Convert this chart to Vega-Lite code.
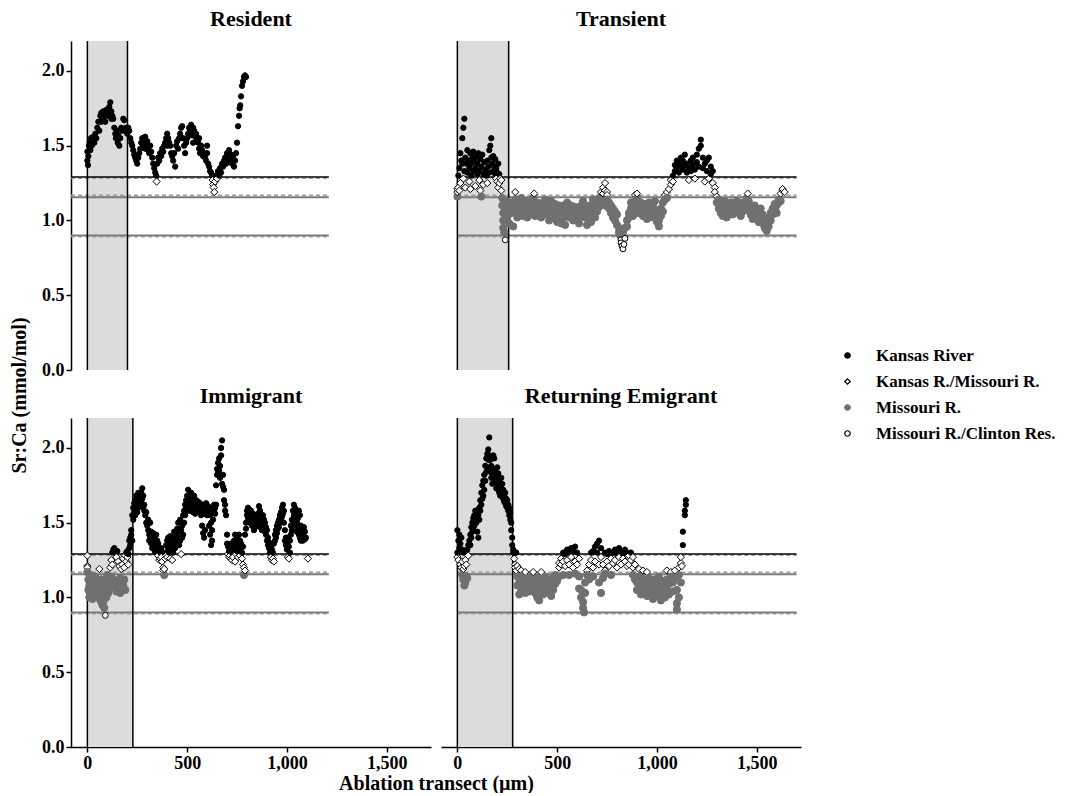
{
"$schema":"https://vega.github.io/schema/vega-lite/v6.json",
"background":"white",
"padding":{"left":9,"top":8,"right":5,"bottom":0},
"columns":2,
"spacing":{"row":48,"column":10},
"bounds":"flush",
"datasets":{
"pan":[{"g":"R","x":0,"xe":201},{"g":"T","x":0,"xe":257},{"g":"I","x":0,"xe":228},{"g":"E","x":0,"xe":277}],
"lines":[
{"g":"R","x":-82,"xe":1210,"y":1.29,"k":"bs"},{"g":"R","x":-82,"xe":1210,"y":1.283,"k":"gd"},{"g":"R","x":-82,"xe":1210,"y":1.168,"k":"gd"},{"g":"R","x":-82,"xe":1210,"y":1.155,"k":"gs"},{"g":"R","x":-82,"xe":1210,"y":0.9,"k":"gs"},{"g":"R","x":-82,"xe":1210,"y":0.891,"k":"gd"},
{"g":"T","x":0,"xe":1700,"y":1.29,"k":"bs"},{"g":"T","x":0,"xe":1700,"y":1.283,"k":"gd"},{"g":"T","x":0,"xe":1700,"y":1.168,"k":"gd"},{"g":"T","x":0,"xe":1700,"y":1.155,"k":"gs"},{"g":"T","x":0,"xe":1700,"y":0.9,"k":"gs"},{"g":"T","x":0,"xe":1700,"y":0.891,"k":"gd"},
{"g":"I","x":-82,"xe":1210,"y":1.29,"k":"bs"},{"g":"I","x":-82,"xe":1210,"y":1.283,"k":"gd"},{"g":"I","x":-82,"xe":1210,"y":1.168,"k":"gd"},{"g":"I","x":-82,"xe":1210,"y":1.155,"k":"gs"},{"g":"I","x":-82,"xe":1210,"y":0.9,"k":"gs"},{"g":"I","x":-82,"xe":1210,"y":0.891,"k":"gd"},
{"g":"E","x":0,"xe":1700,"y":1.29,"k":"bs"},{"g":"E","x":0,"xe":1700,"y":1.283,"k":"gd"},{"g":"E","x":0,"xe":1700,"y":1.168,"k":"gd"},{"g":"E","x":0,"xe":1700,"y":1.155,"k":"gs"},{"g":"E","x":0,"xe":1700,"y":0.9,"k":"gs"},{"g":"E","x":0,"xe":1700,"y":0.891,"k":"gd"}
],
"R":[
{"x":0,"y":1.40,"s":"K"},{"x":0,"y":1.46,"s":"K"},{"x":3,"y":1.37,"s":"K"},{"x":5,"y":1.43,"s":"K"},{"x":8,"y":1.50,"s":"K"},{"x":12,"y":1.52,"s":"K"},{"x":15,"y":1.47,"s":"K"},{"x":18,"y":1.55,"s":"K"},{"x":22,"y":1.50,"s":"K"},{"x":25,"y":1.54,"s":"K"},
{"x":30,"y":1.56,"s":"K"},{"x":35,"y":1.52,"s":"K"},{"x":40,"y":1.58,"s":"K"},{"x":45,"y":1.55,"s":"K"},{"x":50,"y":1.62,"s":"K"},{"x":55,"y":1.66,"s":"K"},{"x":60,"y":1.60,"s":"K"},{"x":65,"y":1.70,"s":"K"},{"x":70,"y":1.72,"s":"K"},{"x":70,"y":1.66,"s":"K"},
{"x":75,"y":1.68,"s":"K"},{"x":80,"y":1.73,"s":"K"},{"x":85,"y":1.70,"s":"K"},{"x":90,"y":1.66,"s":"K"},{"x":95,"y":1.74,"s":"K"},{"x":100,"y":1.70,"s":"K"},{"x":105,"y":1.72,"s":"K"},{"x":110,"y":1.76,"s":"K"},{"x":110,"y":1.70,"s":"K"},{"x":115,"y":1.79,"s":"K"},
{"x":120,"y":1.73,"s":"K"},{"x":120,"y":1.68,"s":"K"},{"x":125,"y":1.70,"s":"K"},{"x":130,"y":1.68,"s":"K"},{"x":135,"y":1.62,"s":"K"},{"x":140,"y":1.58,"s":"K"},{"x":143,"y":1.55,"s":"K"},{"x":148,"y":1.60,"s":"K"},{"x":152,"y":1.52,"s":"K"},{"x":155,"y":1.57,"s":"K"},
{"x":160,"y":1.50,"s":"K"},{"x":165,"y":1.55,"s":"K"},{"x":170,"y":1.62,"s":"K"},{"x":175,"y":1.60,"s":"K"},{"x":180,"y":1.68,"s":"K"},{"x":185,"y":1.67,"s":"K"},{"x":190,"y":1.60,"s":"K"},{"x":195,"y":1.62,"s":"K"},{"x":200,"y":1.58,"s":"K"},{"x":200,"y":1.62,"s":"K"},
{"x":205,"y":1.62,"s":"K"},{"x":210,"y":1.60,"s":"K"},{"x":215,"y":1.55,"s":"K"},{"x":220,"y":1.52,"s":"K"},{"x":225,"y":1.50,"s":"K"},{"x":230,"y":1.47,"s":"K"},{"x":235,"y":1.44,"s":"K"},{"x":240,"y":1.42,"s":"K"},{"x":245,"y":1.40,"s":"K"},{"x":250,"y":1.38,"s":"K"},
{"x":255,"y":1.42,"s":"K"},{"x":260,"y":1.45,"s":"K"},{"x":265,"y":1.48,"s":"K"},{"x":270,"y":1.52,"s":"K"},{"x":275,"y":1.55,"s":"K"},{"x":280,"y":1.50,"s":"K"},{"x":285,"y":1.53,"s":"K"},{"x":290,"y":1.56,"s":"K"},{"x":290,"y":1.48,"s":"K"},{"x":295,"y":1.50,"s":"K"},
{"x":300,"y":1.48,"s":"K"},{"x":300,"y":1.53,"s":"K"},{"x":305,"y":1.47,"s":"K"},{"x":310,"y":1.45,"s":"K"},{"x":315,"y":1.50,"s":"K"},{"x":320,"y":1.46,"s":"K"},{"x":325,"y":1.42,"s":"K"},{"x":330,"y":1.38,"s":"K"},{"x":335,"y":1.35,"s":"K"},{"x":340,"y":1.32,"s":"K"},
{"x":345,"y":1.30,"s":"K"},{"x":347,"y":1.26,"s":"KM"},{"x":350,"y":1.38,"s":"K"},{"x":355,"y":1.42,"s":"K"},{"x":360,"y":1.40,"s":"K"},{"x":365,"y":1.45,"s":"K"},{"x":370,"y":1.43,"s":"K"},{"x":375,"y":1.48,"s":"K"},{"x":380,"y":1.46,"s":"K"},{"x":385,"y":1.50,"s":"K"},
{"x":390,"y":1.52,"s":"K"},{"x":395,"y":1.55,"s":"K"},{"x":400,"y":1.58,"s":"K"},{"x":400,"y":1.50,"s":"K"},{"x":405,"y":1.55,"s":"K"},{"x":410,"y":1.52,"s":"K"},{"x":415,"y":1.50,"s":"K"},{"x":420,"y":1.45,"s":"K"},{"x":425,"y":1.43,"s":"K"},{"x":430,"y":1.40,"s":"K"},
{"x":435,"y":1.45,"s":"K"},{"x":440,"y":1.36,"s":"K"},{"x":445,"y":1.50,"s":"K"},{"x":450,"y":1.53,"s":"K"},{"x":455,"y":1.48,"s":"K"},{"x":460,"y":1.55,"s":"K"},{"x":465,"y":1.58,"s":"K"},{"x":470,"y":1.62,"s":"K"},{"x":470,"y":1.55,"s":"K"},{"x":475,"y":1.63,"s":"K"},
{"x":480,"y":1.55,"s":"K"},{"x":485,"y":1.50,"s":"K"},{"x":490,"y":1.45,"s":"K"},{"x":495,"y":1.52,"s":"K"},{"x":500,"y":1.55,"s":"K"},{"x":505,"y":1.58,"s":"K"},{"x":510,"y":1.62,"s":"K"},{"x":515,"y":1.60,"s":"K"},{"x":520,"y":1.64,"s":"K"},{"x":520,"y":1.57,"s":"K"},
{"x":525,"y":1.58,"s":"K"},{"x":530,"y":1.62,"s":"K"},{"x":530,"y":1.52,"s":"K"},{"x":535,"y":1.60,"s":"K"},{"x":540,"y":1.56,"s":"K"},{"x":545,"y":1.58,"s":"K"},{"x":550,"y":1.55,"s":"K"},{"x":555,"y":1.52,"s":"K"},{"x":560,"y":1.48,"s":"K"},{"x":560,"y":1.55,"s":"K"},
{"x":565,"y":1.45,"s":"K"},{"x":570,"y":1.50,"s":"K"},{"x":575,"y":1.47,"s":"K"},{"x":580,"y":1.43,"s":"K"},{"x":585,"y":1.45,"s":"K"},{"x":590,"y":1.42,"s":"K"},{"x":595,"y":1.40,"s":"K"},{"x":600,"y":1.45,"s":"K"},{"x":600,"y":1.50,"s":"K"},{"x":605,"y":1.38,"s":"K"},
{"x":610,"y":1.36,"s":"K"},{"x":615,"y":1.33,"s":"K"},{"x":620,"y":1.32,"s":"K"},{"x":625,"y":1.30,"s":"K"},{"x":628,"y":1.27,"s":"KM"},{"x":630,"y":1.24,"s":"KM"},{"x":633,"y":1.22,"s":"KM"},{"x":636,"y":1.19,"s":"KM"},{"x":640,"y":1.26,"s":"KM"},{"x":645,"y":1.30,"s":"K"},
{"x":650,"y":1.28,"s":"KM"},{"x":655,"y":1.33,"s":"K"},{"x":660,"y":1.30,"s":"K"},{"x":665,"y":1.35,"s":"K"},{"x":670,"y":1.32,"s":"K"},{"x":675,"y":1.38,"s":"K"},{"x":680,"y":1.36,"s":"K"},{"x":685,"y":1.40,"s":"K"},{"x":690,"y":1.42,"s":"K"},{"x":695,"y":1.38,"s":"K"},
{"x":700,"y":1.45,"s":"K"},{"x":700,"y":1.39,"s":"K"},{"x":705,"y":1.42,"s":"K"},{"x":710,"y":1.47,"s":"K"},{"x":715,"y":1.40,"s":"K"},{"x":720,"y":1.44,"s":"K"},{"x":720,"y":1.41,"s":"K"},{"x":725,"y":1.38,"s":"K"},{"x":730,"y":1.42,"s":"K"},{"x":735,"y":1.36,"s":"K"},
{"x":740,"y":1.40,"s":"K"},{"x":745,"y":1.45,"s":"K"},{"x":750,"y":1.52,"s":"K"},{"x":755,"y":1.63,"s":"K"},{"x":760,"y":1.70,"s":"K"},{"x":763,"y":1.75,"s":"K"},{"x":766,"y":1.77,"s":"K"},{"x":770,"y":1.83,"s":"K"},{"x":775,"y":1.90,"s":"K"},{"x":780,"y":1.93,"s":"K"},
{"x":785,"y":1.96,"s":"K"},{"x":790,"y":1.97,"s":"K"},{"x":795,"y":1.96,"s":"K"}
],
"T":[
{"x":0,"y":1.16,"s":"M"},{"x":0,"y":1.19,"s":"KM"},{"x":0,"y":1.21,"s":"KM"},{"x":5,"y":1.22,"s":"KM"},{"x":5,"y":1.30,"s":"K"},{"x":10,"y":1.20,"s":"KM"},{"x":10,"y":1.35,"s":"K"},{"x":15,"y":1.45,"s":"K"},{"x":15,"y":1.25,"s":"KM"},{"x":20,"y":1.40,"s":"K"},
{"x":25,"y":1.55,"s":"K"},{"x":25,"y":1.38,"s":"K"},{"x":30,"y":1.62,"s":"K"},{"x":30,"y":1.28,"s":"KM"},{"x":35,"y":1.68,"s":"K"},{"x":35,"y":1.33,"s":"K"},{"x":40,"y":1.42,"s":"K"},{"x":40,"y":1.22,"s":"KM"},{"x":45,"y":1.38,"s":"K"},{"x":50,"y":1.47,"s":"K"},
{"x":50,"y":1.32,"s":"K"},{"x":55,"y":1.40,"s":"K"},{"x":60,"y":1.35,"s":"K"},{"x":60,"y":1.26,"s":"KM"},{"x":65,"y":1.45,"s":"K"},{"x":65,"y":1.21,"s":"KM"},{"x":70,"y":1.38,"s":"K"},{"x":70,"y":1.30,"s":"K"},{"x":75,"y":1.42,"s":"K"},{"x":80,"y":1.46,"s":"K"},
{"x":80,"y":1.33,"s":"K"},{"x":85,"y":1.40,"s":"K"},{"x":90,"y":1.35,"s":"K"},{"x":90,"y":1.23,"s":"KM"},{"x":95,"y":1.43,"s":"K"},{"x":100,"y":1.38,"s":"K"},{"x":100,"y":1.31,"s":"K"},{"x":105,"y":1.45,"s":"K"},{"x":110,"y":1.33,"s":"K"},{"x":110,"y":1.27,"s":"KM"},
{"x":115,"y":1.41,"s":"K"},{"x":115,"y":1.20,"s":"KM"},{"x":120,"y":1.36,"s":"K"},{"x":120,"y":1.16,"s":"M"},{"x":125,"y":1.44,"s":"K"},{"x":130,"y":1.31,"s":"K"},{"x":130,"y":1.24,"s":"KM"},{"x":135,"y":1.39,"s":"K"},{"x":140,"y":1.34,"s":"K"},{"x":145,"y":1.30,"s":"K"},
{"x":150,"y":1.40,"s":"K"},{"x":150,"y":1.25,"s":"KM"},{"x":155,"y":1.36,"s":"K"},{"x":160,"y":1.47,"s":"K"},{"x":160,"y":1.32,"s":"K"},{"x":165,"y":1.50,"s":"K"},{"x":170,"y":1.55,"s":"K"},{"x":170,"y":1.42,"s":"K"},{"x":175,"y":1.38,"s":"K"},{"x":180,"y":1.43,"s":"K"},
{"x":180,"y":1.33,"s":"K"},{"x":185,"y":1.36,"s":"K"},{"x":190,"y":1.41,"s":"K"},{"x":190,"y":1.31,"s":"K"},{"x":195,"y":1.35,"s":"K"},{"x":195,"y":1.28,"s":"KM"},{"x":200,"y":1.32,"s":"K"},{"x":200,"y":1.26,"s":"KM"},{"x":205,"y":1.38,"s":"K"},{"x":205,"y":1.22,"s":"KM"},
{"x":210,"y":1.31,"s":"K"},{"x":210,"y":1.25,"s":"KM"},{"x":215,"y":1.28,"s":"KM"},{"x":220,"y":1.20,"s":"KM"},{"x":220,"y":1.27,"s":"KM"},{"x":225,"y":1.15,"s":"M"},{"x":225,"y":1.10,"s":"M"},{"x":230,"y":1.05,"s":"M"},{"x":230,"y":1.00,"s":"M"},{"x":230,"y":0.95,"s":"M"},
{"x":235,"y":0.92,"s":"M"},{"x":235,"y":1.12,"s":"M"},{"x":240,"y":0.87,"s":"MC"},{"x":240,"y":1.08,"s":"M"},{"x":245,"y":1.13,"s":"M"},
{"x":250,"y":1.12,"s":"M"},{"x":250,"y":1.02,"s":"M"},{"x":260,"y":1.08,"s":"M"},{"x":260,"y":0.98,"s":"M"},{"x":270,"y":1.05,"s":"M"},{"x":270,"y":1.12,"s":"M"},{"x":280,"y":1.10,"s":"M"},{"x":280,"y":0.96,"s":"M"},{"x":290,"y":1.14,"s":"M"},{"x":290,"y":1.06,"s":"M"},
{"x":290,"y":1.19,"s":"KM"},{"x":300,"y":1.09,"s":"M"},{"x":300,"y":1.02,"s":"M"},{"x":310,"y":1.12,"s":"M"},{"x":310,"y":1.05,"s":"M"},{"x":320,"y":1.07,"s":"M"},{"x":320,"y":1.15,"s":"M"},{"x":330,"y":1.11,"s":"M"},{"x":330,"y":1.03,"s":"M"},{"x":340,"y":1.08,"s":"M"},
{"x":340,"y":1.13,"s":"M"},{"x":350,"y":1.10,"s":"M"},{"x":350,"y":1.02,"s":"M"},{"x":360,"y":1.06,"s":"M"},{"x":360,"y":1.12,"s":"M"},{"x":370,"y":1.13,"s":"M"},{"x":370,"y":1.04,"s":"M"},{"x":380,"y":1.08,"s":"M"},{"x":380,"y":1.15,"s":"M"},{"x":385,"y":1.18,"s":"KM"},
{"x":390,"y":1.10,"s":"M"},{"x":390,"y":1.03,"s":"M"},{"x":400,"y":1.05,"s":"M"},{"x":400,"y":1.12,"s":"M"},{"x":410,"y":1.11,"s":"M"},{"x":410,"y":1.07,"s":"M"},{"x":420,"y":1.02,"s":"M"},{"x":420,"y":1.09,"s":"M"},{"x":430,"y":1.12,"s":"M"},{"x":430,"y":1.05,"s":"M"},
{"x":440,"y":1.08,"s":"M"},{"x":440,"y":1.14,"s":"M"},{"x":450,"y":1.04,"s":"M"},{"x":450,"y":1.10,"s":"M"},{"x":460,"y":1.12,"s":"M"},{"x":460,"y":1.00,"s":"M"},{"x":470,"y":1.07,"s":"M"},{"x":470,"y":1.13,"s":"M"},{"x":480,"y":1.05,"s":"M"},{"x":480,"y":1.10,"s":"M"},
{"x":490,"y":1.11,"s":"M"},{"x":490,"y":1.02,"s":"M"},{"x":500,"y":1.08,"s":"M"},{"x":500,"y":0.99,"s":"M"},{"x":510,"y":1.03,"s":"M"},{"x":510,"y":1.10,"s":"M"},{"x":520,"y":1.06,"s":"M"},{"x":520,"y":0.98,"s":"M"},{"x":530,"y":1.10,"s":"M"},{"x":530,"y":1.02,"s":"M"},
{"x":540,"y":1.04,"s":"M"},{"x":540,"y":0.97,"s":"M"},{"x":550,"y":1.08,"s":"M"},{"x":550,"y":1.12,"s":"M"},{"x":560,"y":1.02,"s":"M"},{"x":560,"y":1.07,"s":"M"},{"x":570,"y":1.10,"s":"M"},{"x":570,"y":1.05,"s":"M"},{"x":580,"y":1.06,"s":"M"},{"x":580,"y":1.00,"s":"M"},
{"x":590,"y":1.03,"s":"M"},{"x":590,"y":1.09,"s":"M"},{"x":600,"y":1.00,"s":"M"},{"x":600,"y":1.07,"s":"M"},{"x":610,"y":1.05,"s":"M"},{"x":610,"y":0.98,"s":"M"},{"x":620,"y":1.10,"s":"M"},{"x":620,"y":1.03,"s":"M"},{"x":630,"y":1.08,"s":"M"},{"x":630,"y":1.13,"s":"M"},
{"x":640,"y":1.02,"s":"M"},{"x":640,"y":1.07,"s":"M"},{"x":650,"y":1.06,"s":"M"},{"x":650,"y":0.97,"s":"M"},{"x":660,"y":1.10,"s":"M"},{"x":660,"y":1.03,"s":"M"},{"x":670,"y":1.05,"s":"M"},{"x":670,"y":0.99,"s":"M"},{"x":680,"y":1.08,"s":"M"},{"x":680,"y":1.14,"s":"M"},
{"x":690,"y":1.02,"s":"M"},{"x":690,"y":1.10,"s":"M"},{"x":700,"y":1.12,"s":"M"},{"x":700,"y":1.06,"s":"M"},{"x":710,"y":1.15,"s":"M"},{"x":710,"y":1.09,"s":"M"},{"x":720,"y":1.13,"s":"M"},{"x":720,"y":1.19,"s":"KM"},{"x":730,"y":1.22,"s":"KM"},{"x":730,"y":1.18,"s":"KM"},
{"x":730,"y":1.12,"s":"M"},{"x":740,"y":1.25,"s":"KM"},{"x":740,"y":1.20,"s":"KM"},{"x":740,"y":1.10,"s":"M"},{"x":750,"y":1.19,"s":"KM"},{"x":750,"y":1.17,"s":"KM"},{"x":750,"y":1.14,"s":"M"},{"x":760,"y":1.08,"s":"M"},{"x":760,"y":1.12,"s":"M"},{"x":770,"y":1.05,"s":"M"},
{"x":770,"y":1.10,"s":"M"},{"x":780,"y":1.02,"s":"M"},{"x":780,"y":1.08,"s":"M"},{"x":790,"y":1.00,"s":"M"},{"x":790,"y":1.06,"s":"M"},{"x":800,"y":0.97,"s":"M"},{"x":800,"y":1.04,"s":"M"},{"x":810,"y":0.95,"s":"M"},{"x":810,"y":0.92,"s":"M"},{"x":815,"y":0.90,"s":"M"},
{"x":820,"y":0.87,"s":"MC"},{"x":820,"y":0.85,"s":"MC"},{"x":825,"y":0.83,"s":"MC"},{"x":830,"y":0.81,"s":"MC"},{"x":830,"y":0.92,"s":"M"},{"x":835,"y":0.84,"s":"MC"},{"x":840,"y":0.95,"s":"M"},{"x":840,"y":0.88,"s":"MC"},{"x":850,"y":1.00,"s":"M"},{"x":850,"y":0.96,"s":"M"},
{"x":860,"y":1.05,"s":"M"},{"x":860,"y":1.02,"s":"M"},{"x":870,"y":1.08,"s":"M"},{"x":870,"y":1.12,"s":"M"},{"x":880,"y":1.10,"s":"M"},{"x":880,"y":1.03,"s":"M"},{"x":890,"y":1.13,"s":"M"},{"x":890,"y":1.06,"s":"M"},{"x":890,"y":1.17,"s":"KM"},{"x":900,"y":1.15,"s":"M"},
{"x":900,"y":1.08,"s":"M"},{"x":900,"y":1.18,"s":"KM"},{"x":910,"y":1.10,"s":"M"},{"x":910,"y":1.05,"s":"M"},{"x":920,"y":1.07,"s":"M"},{"x":920,"y":1.12,"s":"M"},{"x":930,"y":1.03,"s":"M"},{"x":930,"y":1.09,"s":"M"},{"x":940,"y":1.06,"s":"M"},{"x":940,"y":1.11,"s":"M"},
{"x":950,"y":1.08,"s":"M"},{"x":950,"y":1.01,"s":"M"},{"x":960,"y":1.12,"s":"M"},{"x":960,"y":1.05,"s":"M"},{"x":970,"y":1.04,"s":"M"},{"x":970,"y":1.09,"s":"M"},{"x":980,"y":1.10,"s":"M"},{"x":980,"y":1.02,"s":"M"},{"x":990,"y":1.07,"s":"M"},{"x":990,"y":1.13,"s":"M"},
{"x":1000,"y":1.05,"s":"M"},{"x":1000,"y":0.99,"s":"M"},{"x":1010,"y":1.00,"s":"M"},{"x":1010,"y":0.96,"s":"M"},{"x":1020,"y":1.08,"s":"M"},{"x":1020,"y":1.03,"s":"M"},{"x":1030,"y":1.12,"s":"M"},{"x":1030,"y":1.06,"s":"M"},{"x":1040,"y":1.17,"s":"KM"},{"x":1040,"y":1.14,"s":"M"},
{"x":1050,"y":1.19,"s":"KM"},{"x":1050,"y":1.15,"s":"M"},{"x":1060,"y":1.21,"s":"KM"},{"x":1070,"y":1.24,"s":"KM"},{"x":1070,"y":1.27,"s":"KM"},{"x":1080,"y":1.30,"s":"K"},{"x":1080,"y":1.26,"s":"KM"},{"x":1090,"y":1.33,"s":"K"},{"x":1090,"y":1.37,"s":"K"},{"x":1100,"y":1.35,"s":"K"},
{"x":1100,"y":1.40,"s":"K"},{"x":1110,"y":1.38,"s":"K"},{"x":1110,"y":1.32,"s":"K"},{"x":1120,"y":1.42,"s":"K"},{"x":1120,"y":1.36,"s":"K"},{"x":1130,"y":1.40,"s":"K"},{"x":1130,"y":1.34,"s":"K"},{"x":1140,"y":1.44,"s":"K"},{"x":1140,"y":1.37,"s":"K"},{"x":1150,"y":1.38,"s":"K"},
{"x":1150,"y":1.32,"s":"K"},{"x":1160,"y":1.35,"s":"K"},{"x":1160,"y":1.27,"s":"KM"},{"x":1170,"y":1.40,"s":"K"},{"x":1170,"y":1.33,"s":"K"},{"x":1180,"y":1.37,"s":"K"},{"x":1180,"y":1.42,"s":"K"},{"x":1190,"y":1.34,"s":"K"},{"x":1190,"y":1.28,"s":"KM"},{"x":1200,"y":1.39,"s":"K"},
{"x":1200,"y":1.44,"s":"K"},{"x":1210,"y":1.48,"s":"K"},{"x":1210,"y":1.36,"s":"K"},{"x":1220,"y":1.54,"s":"K"},{"x":1220,"y":1.50,"s":"K"},{"x":1230,"y":1.42,"s":"K"},{"x":1230,"y":1.35,"s":"K"},{"x":1240,"y":1.38,"s":"K"},{"x":1240,"y":1.26,"s":"KM"},{"x":1250,"y":1.40,"s":"K"},
{"x":1250,"y":1.33,"s":"K"},{"x":1260,"y":1.42,"s":"K"},{"x":1260,"y":1.28,"s":"KM"},{"x":1270,"y":1.36,"s":"K"},{"x":1270,"y":1.31,"s":"K"},{"x":1280,"y":1.25,"s":"KM"},{"x":1280,"y":1.33,"s":"K"},{"x":1290,"y":1.22,"s":"KM"},{"x":1290,"y":1.19,"s":"KM"},{"x":1300,"y":1.16,"s":"KM"},
{"x":1300,"y":1.12,"s":"M"},{"x":1310,"y":1.08,"s":"M"},{"x":1310,"y":1.14,"s":"M"},{"x":1320,"y":1.05,"s":"M"},{"x":1320,"y":1.11,"s":"M"},{"x":1330,"y":1.10,"s":"M"},{"x":1330,"y":1.03,"s":"M"},{"x":1340,"y":1.06,"s":"M"},{"x":1340,"y":1.13,"s":"M"},{"x":1350,"y":1.09,"s":"M"},
{"x":1350,"y":1.02,"s":"M"},{"x":1360,"y":1.11,"s":"M"},{"x":1360,"y":1.05,"s":"M"},{"x":1370,"y":1.07,"s":"M"},{"x":1370,"y":1.12,"s":"M"},{"x":1380,"y":1.04,"s":"M"},{"x":1380,"y":1.09,"s":"M"},{"x":1390,"y":1.10,"s":"M"},{"x":1390,"y":1.06,"s":"M"},{"x":1400,"y":1.08,"s":"M"},
{"x":1400,"y":1.13,"s":"M"},{"x":1410,"y":1.05,"s":"M"},{"x":1410,"y":1.10,"s":"M"},{"x":1420,"y":1.09,"s":"M"},{"x":1420,"y":1.03,"s":"M"},{"x":1430,"y":1.12,"s":"M"},{"x":1430,"y":1.06,"s":"M"},{"x":1440,"y":1.07,"s":"M"},{"x":1440,"y":1.10,"s":"M"},{"x":1450,"y":1.11,"s":"M"},
{"x":1450,"y":1.15,"s":"M"},{"x":1455,"y":1.18,"s":"KM"},{"x":1460,"y":1.08,"s":"M"},{"x":1460,"y":1.13,"s":"M"},{"x":1470,"y":1.04,"s":"M"},{"x":1470,"y":1.10,"s":"M"},{"x":1480,"y":1.07,"s":"M"},{"x":1480,"y":1.01,"s":"M"},{"x":1490,"y":1.10,"s":"M"},{"x":1490,"y":1.05,"s":"M"},
{"x":1500,"y":1.03,"s":"M"},{"x":1500,"y":1.08,"s":"M"},{"x":1510,"y":1.06,"s":"M"},{"x":1510,"y":0.99,"s":"M"},{"x":1520,"y":1.02,"s":"M"},{"x":1520,"y":1.08,"s":"M"},{"x":1530,"y":0.98,"s":"M"},{"x":1530,"y":1.04,"s":"M"},{"x":1540,"y":0.95,"s":"M"},{"x":1540,"y":1.00,"s":"M"},
{"x":1550,"y":0.93,"s":"M"},{"x":1550,"y":0.97,"s":"M"},{"x":1560,"y":0.96,"s":"M"},{"x":1560,"y":1.02,"s":"M"},{"x":1570,"y":1.00,"s":"M"},{"x":1570,"y":1.05,"s":"M"},{"x":1580,"y":1.04,"s":"M"},{"x":1580,"y":1.08,"s":"M"},{"x":1590,"y":1.07,"s":"M"},{"x":1590,"y":1.11,"s":"M"},
{"x":1600,"y":1.10,"s":"M"},{"x":1600,"y":1.05,"s":"M"},{"x":1610,"y":1.12,"s":"M"},{"x":1610,"y":1.14,"s":"M"},{"x":1620,"y":1.18,"s":"KM"},{"x":1620,"y":1.13,"s":"M"},{"x":1630,"y":1.20,"s":"KM"},{"x":1630,"y":1.21,"s":"KM"},{"x":1640,"y":1.19,"s":"KM"}
],
"I":[
{"x":0,"y":1.28,"s":"KM"},{"x":0,"y":1.21,"s":"KM"},{"x":0,"y":1.20,"s":"KM"},{"x":0,"y":1.17,"s":"M"},{"x":5,"y":1.12,"s":"M"},{"x":5,"y":1.05,"s":"M"},{"x":10,"y":1.08,"s":"M"},{"x":10,"y":1.00,"s":"M"},{"x":15,"y":1.15,"s":"M"},{"x":15,"y":1.03,"s":"M"},
{"x":20,"y":1.10,"s":"M"},{"x":20,"y":1.01,"s":"M"},{"x":25,"y":1.06,"s":"M"},{"x":25,"y":0.99,"s":"M"},{"x":30,"y":1.12,"s":"M"},{"x":30,"y":1.04,"s":"M"},{"x":35,"y":1.09,"s":"M"},{"x":35,"y":1.00,"s":"M"},{"x":40,"y":1.14,"s":"M"},{"x":40,"y":1.07,"s":"M"},
{"x":45,"y":1.02,"s":"M"},{"x":45,"y":1.10,"s":"M"},{"x":50,"y":1.05,"s":"M"},{"x":50,"y":1.12,"s":"M"},{"x":55,"y":1.08,"s":"M"},{"x":55,"y":1.01,"s":"M"},{"x":60,"y":1.19,"s":"KM"},{"x":60,"y":1.10,"s":"M"},{"x":60,"y":1.03,"s":"M"},{"x":65,"y":1.06,"s":"M"},
{"x":65,"y":0.98,"s":"M"},{"x":70,"y":1.12,"s":"M"},{"x":70,"y":1.04,"s":"M"},{"x":75,"y":0.95,"s":"M"},{"x":75,"y":1.08,"s":"M"},{"x":80,"y":0.97,"s":"M"},{"x":80,"y":1.02,"s":"M"},{"x":85,"y":0.93,"s":"M"},{"x":85,"y":1.09,"s":"M"},{"x":90,"y":1.05,"s":"M"},
{"x":90,"y":0.88,"s":"MC"},{"x":95,"y":1.12,"s":"M"},{"x":95,"y":1.00,"s":"M"},{"x":100,"y":1.15,"s":"M"},{"x":100,"y":1.07,"s":"M"},{"x":105,"y":1.10,"s":"M"},{"x":105,"y":1.03,"s":"M"},{"x":110,"y":1.13,"s":"M"},{"x":110,"y":1.06,"s":"M"},{"x":115,"y":1.20,"s":"KM"},
{"x":115,"y":1.09,"s":"M"},{"x":120,"y":1.25,"s":"KM"},{"x":120,"y":1.14,"s":"M"},{"x":125,"y":1.30,"s":"K"},{"x":125,"y":1.22,"s":"KM"},{"x":130,"y":1.32,"s":"K"},{"x":130,"y":1.12,"s":"M"},{"x":135,"y":1.33,"s":"K"},{"x":135,"y":1.08,"s":"M"},{"x":140,"y":1.30,"s":"K"},
{"x":140,"y":1.11,"s":"M"},{"x":145,"y":1.27,"s":"KM"},{"x":145,"y":1.04,"s":"M"},{"x":150,"y":1.31,"s":"K"},{"x":150,"y":1.10,"s":"M"},{"x":155,"y":1.24,"s":"KM"},{"x":155,"y":1.06,"s":"M"},{"x":160,"y":1.08,"s":"M"},{"x":160,"y":1.21,"s":"KM"},{"x":165,"y":1.13,"s":"M"},
{"x":165,"y":1.03,"s":"M"},{"x":170,"y":1.19,"s":"KM"},{"x":170,"y":1.10,"s":"M"},{"x":175,"y":1.05,"s":"M"},{"x":175,"y":1.22,"s":"KM"},{"x":180,"y":1.08,"s":"M"},{"x":180,"y":1.26,"s":"KM"},{"x":185,"y":1.20,"s":"KM"},{"x":185,"y":1.12,"s":"M"},{"x":190,"y":1.28,"s":"KM"},
{"x":190,"y":1.05,"s":"M"},{"x":195,"y":1.30,"s":"K"},{"x":195,"y":1.24,"s":"KM"},{"x":200,"y":1.31,"s":"K"},{"x":200,"y":1.27,"s":"KM"},{"x":205,"y":1.29,"s":"K"},{"x":205,"y":1.22,"s":"KM"},{"x":210,"y":1.33,"s":"K"},{"x":210,"y":1.38,"s":"K"},{"x":215,"y":1.40,"s":"K"},
{"x":215,"y":1.35,"s":"K"},{"x":220,"y":1.45,"s":"K"},{"x":220,"y":1.42,"s":"K"},{"x":225,"y":1.55,"s":"K"},{"x":225,"y":1.38,"s":"K"},{"x":230,"y":1.60,"s":"K"},{"x":230,"y":1.52,"s":"K"},{"x":235,"y":1.58,"s":"K"},{"x":235,"y":1.63,"s":"K"},{"x":240,"y":1.55,"s":"K"},
{"x":240,"y":1.65,"s":"K"},{"x":245,"y":1.62,"s":"K"},{"x":245,"y":1.68,"s":"K"},{"x":250,"y":1.57,"s":"K"},{"x":250,"y":1.66,"s":"K"},{"x":255,"y":1.60,"s":"K"},{"x":255,"y":1.70,"s":"K"},{"x":260,"y":1.64,"s":"K"},{"x":260,"y":1.67,"s":"K"},{"x":265,"y":1.68,"s":"K"},
{"x":265,"y":1.62,"s":"K"},{"x":270,"y":1.70,"s":"K"},{"x":270,"y":1.65,"s":"K"},{"x":275,"y":1.73,"s":"K"},{"x":275,"y":1.66,"s":"K"},{"x":280,"y":1.68,"s":"K"},{"x":280,"y":1.60,"s":"K"},{"x":285,"y":1.62,"s":"K"},{"x":285,"y":1.58,"s":"K"},{"x":290,"y":1.55,"s":"K"},
{"x":295,"y":1.57,"s":"K"},{"x":295,"y":1.50,"s":"K"},{"x":300,"y":1.48,"s":"K"},{"x":305,"y":1.52,"s":"K"},{"x":305,"y":1.45,"s":"K"},{"x":310,"y":1.42,"s":"K"},{"x":310,"y":1.38,"s":"K"},{"x":315,"y":1.50,"s":"K"},{"x":315,"y":1.40,"s":"K"},{"x":320,"y":1.44,"s":"K"},
{"x":320,"y":1.36,"s":"K"},{"x":325,"y":1.38,"s":"K"},{"x":325,"y":1.33,"s":"K"},{"x":330,"y":1.43,"s":"K"},{"x":330,"y":1.35,"s":"K"},{"x":335,"y":1.40,"s":"K"},{"x":335,"y":1.32,"s":"K"},{"x":340,"y":1.37,"s":"K"},{"x":340,"y":1.30,"s":"K"},{"x":345,"y":1.42,"s":"K"},
{"x":345,"y":1.34,"s":"K"},{"x":350,"y":1.38,"s":"K"},{"x":350,"y":1.31,"s":"K"},{"x":355,"y":1.36,"s":"K"},{"x":355,"y":1.28,"s":"KM"},{"x":360,"y":1.32,"s":"K"},{"x":360,"y":1.25,"s":"KM"},{"x":365,"y":1.30,"s":"K"},{"x":365,"y":1.26,"s":"KM"},{"x":370,"y":1.27,"s":"KM"},
{"x":370,"y":1.33,"s":"K"},{"x":375,"y":1.24,"s":"KM"},{"x":380,"y":1.20,"s":"KM"},{"x":380,"y":1.18,"s":"KM"},{"x":385,"y":1.15,"s":"M"},{"x":385,"y":1.19,"s":"KM"},{"x":390,"y":1.30,"s":"K"},{"x":390,"y":1.26,"s":"KM"},{"x":395,"y":1.35,"s":"K"},{"x":395,"y":1.28,"s":"KM"},
{"x":400,"y":1.38,"s":"K"},{"x":400,"y":1.27,"s":"KM"},{"x":405,"y":1.33,"s":"K"},{"x":405,"y":1.40,"s":"K"},{"x":410,"y":1.36,"s":"K"},{"x":410,"y":1.30,"s":"K"},{"x":415,"y":1.41,"s":"K"},{"x":415,"y":1.26,"s":"KM"},{"x":420,"y":1.38,"s":"K"},{"x":420,"y":1.32,"s":"K"},
{"x":425,"y":1.35,"s":"K"},{"x":425,"y":1.25,"s":"KM"},{"x":430,"y":1.40,"s":"K"},{"x":430,"y":1.30,"s":"K"},{"x":435,"y":1.37,"s":"K"},{"x":435,"y":1.44,"s":"K"},{"x":440,"y":1.40,"s":"K"},{"x":440,"y":1.33,"s":"K"},{"x":445,"y":1.36,"s":"K"},{"x":445,"y":1.42,"s":"K"},
{"x":450,"y":1.46,"s":"K"},{"x":450,"y":1.38,"s":"K"},{"x":455,"y":1.50,"s":"K"},{"x":455,"y":1.40,"s":"K"},{"x":460,"y":1.44,"s":"K"},{"x":460,"y":1.35,"s":"K"},{"x":465,"y":1.52,"s":"K"},{"x":465,"y":1.38,"s":"K"},{"x":470,"y":1.45,"s":"K"},{"x":470,"y":1.29,"s":"KM"},
{"x":475,"y":1.48,"s":"K"},{"x":475,"y":1.40,"s":"K"},{"x":480,"y":1.55,"s":"K"},{"x":480,"y":1.42,"s":"K"},{"x":485,"y":1.58,"s":"K"},{"x":485,"y":1.50,"s":"K"},{"x":490,"y":1.62,"s":"K"},{"x":490,"y":1.55,"s":"K"},{"x":495,"y":1.60,"s":"K"},{"x":495,"y":1.65,"s":"K"},
{"x":500,"y":1.68,"s":"K"},{"x":500,"y":1.58,"s":"K"},{"x":505,"y":1.72,"s":"K"},{"x":505,"y":1.62,"s":"K"},{"x":510,"y":1.66,"s":"K"},{"x":510,"y":1.60,"s":"K"},{"x":515,"y":1.63,"s":"K"},{"x":515,"y":1.58,"s":"K"},{"x":520,"y":1.70,"s":"K"},{"x":520,"y":1.61,"s":"K"},
{"x":525,"y":1.65,"s":"K"},{"x":525,"y":1.59,"s":"K"},{"x":530,"y":1.62,"s":"K"},{"x":530,"y":1.57,"s":"K"},{"x":535,"y":1.68,"s":"K"},{"x":535,"y":1.60,"s":"K"},{"x":540,"y":1.63,"s":"K"},{"x":540,"y":1.56,"s":"K"},{"x":545,"y":1.60,"s":"K"},{"x":545,"y":1.65,"s":"K"},
{"x":550,"y":1.58,"s":"K"},{"x":550,"y":1.62,"s":"K"},{"x":555,"y":1.64,"s":"K"},{"x":555,"y":1.60,"s":"K"},{"x":560,"y":1.61,"s":"K"},{"x":560,"y":1.57,"s":"K"},{"x":565,"y":1.58,"s":"K"},{"x":565,"y":1.63,"s":"K"},{"x":570,"y":1.62,"s":"K"},{"x":570,"y":1.55,"s":"K"},
{"x":575,"y":1.60,"s":"K"},{"x":575,"y":1.48,"s":"K"},{"x":580,"y":1.56,"s":"K"},{"x":580,"y":1.43,"s":"K"},{"x":585,"y":1.60,"s":"K"},{"x":585,"y":1.40,"s":"K"},{"x":590,"y":1.62,"s":"K"},{"x":590,"y":1.45,"s":"K"},{"x":595,"y":1.58,"s":"K"},{"x":595,"y":1.63,"s":"K"},
{"x":600,"y":1.55,"s":"K"},{"x":600,"y":1.60,"s":"K"},{"x":605,"y":1.61,"s":"K"},{"x":605,"y":1.57,"s":"K"},{"x":610,"y":1.58,"s":"K"},{"x":610,"y":1.48,"s":"K"},{"x":615,"y":1.55,"s":"K"},{"x":615,"y":1.42,"s":"K"},{"x":620,"y":1.50,"s":"K"},{"x":620,"y":1.35,"s":"K"},
{"x":625,"y":1.45,"s":"K"},{"x":625,"y":1.38,"s":"K"},{"x":630,"y":1.60,"s":"K"},{"x":630,"y":1.52,"s":"K"},{"x":635,"y":1.58,"s":"K"},{"x":635,"y":1.62,"s":"K"},{"x":640,"y":1.56,"s":"K"},{"x":640,"y":1.60,"s":"K"},{"x":645,"y":1.75,"s":"K"},{"x":645,"y":1.62,"s":"K"},
{"x":650,"y":1.82,"s":"K"},{"x":650,"y":1.86,"s":"K"},{"x":655,"y":1.90,"s":"K"},{"x":655,"y":1.84,"s":"K"},{"x":660,"y":1.85,"s":"K"},{"x":660,"y":1.93,"s":"K"},{"x":665,"y":1.88,"s":"K"},{"x":665,"y":1.80,"s":"K"},{"x":670,"y":2.00,"s":"K"},{"x":670,"y":1.95,"s":"K"},
{"x":675,"y":2.05,"s":"K"},{"x":675,"y":1.76,"s":"K"},{"x":680,"y":1.74,"s":"K"},{"x":680,"y":1.82,"s":"K"},{"x":685,"y":1.72,"s":"K"},{"x":685,"y":1.65,"s":"K"},{"x":690,"y":1.62,"s":"K"},{"x":690,"y":1.58,"s":"K"},{"x":695,"y":1.55,"s":"K"},{"x":700,"y":1.42,"s":"K"},
{"x":700,"y":1.36,"s":"K"},{"x":705,"y":1.34,"s":"K"},{"x":705,"y":1.29,"s":"KM"},{"x":710,"y":1.31,"s":"K"},{"x":710,"y":1.27,"s":"KM"},{"x":715,"y":1.33,"s":"K"},{"x":715,"y":1.28,"s":"KM"},{"x":720,"y":1.36,"s":"K"},{"x":720,"y":1.26,"s":"KM"},{"x":725,"y":1.30,"s":"K"},
{"x":725,"y":1.25,"s":"KM"},{"x":730,"y":1.34,"s":"K"},{"x":730,"y":1.27,"s":"KM"},{"x":735,"y":1.38,"s":"K"},{"x":735,"y":1.32,"s":"K"},{"x":740,"y":1.42,"s":"K"},{"x":740,"y":1.24,"s":"KM"},{"x":745,"y":1.35,"s":"K"},{"x":745,"y":1.29,"s":"KM"},{"x":750,"y":1.40,"s":"K"},
{"x":750,"y":1.31,"s":"K"},{"x":755,"y":1.37,"s":"K"},{"x":755,"y":1.27,"s":"KM"},{"x":760,"y":1.33,"s":"K"},{"x":760,"y":1.42,"s":"K"},{"x":765,"y":1.38,"s":"K"},{"x":765,"y":1.28,"s":"KM"},{"x":770,"y":1.36,"s":"K"},{"x":770,"y":1.31,"s":"K"},{"x":775,"y":1.26,"s":"KM"},
{"x":775,"y":1.30,"s":"K"},{"x":780,"y":1.22,"s":"KM"},{"x":780,"y":1.34,"s":"K"},{"x":785,"y":1.20,"s":"KM"},{"x":785,"y":1.15,"s":"M"},{"x":790,"y":1.18,"s":"KM"},{"x":790,"y":1.42,"s":"K"},{"x":795,"y":1.46,"s":"K"},{"x":795,"y":1.50,"s":"K"},{"x":800,"y":1.55,"s":"K"},
{"x":800,"y":1.58,"s":"K"},{"x":805,"y":1.60,"s":"K"},{"x":805,"y":1.53,"s":"K"},{"x":810,"y":1.57,"s":"K"},{"x":810,"y":1.59,"s":"K"},{"x":815,"y":1.55,"s":"K"},{"x":815,"y":1.50,"s":"K"},{"x":820,"y":1.58,"s":"K"},{"x":820,"y":1.52,"s":"K"},{"x":825,"y":1.54,"s":"K"},
{"x":825,"y":1.48,"s":"K"},{"x":830,"y":1.51,"s":"K"},{"x":830,"y":1.56,"s":"K"},{"x":835,"y":1.49,"s":"K"},{"x":835,"y":1.45,"s":"K"},{"x":840,"y":1.53,"s":"K"},{"x":840,"y":1.47,"s":"K"},{"x":845,"y":1.50,"s":"K"},{"x":845,"y":1.55,"s":"K"},{"x":850,"y":1.48,"s":"K"},
{"x":850,"y":1.52,"s":"K"},{"x":855,"y":1.56,"s":"K"},{"x":855,"y":1.49,"s":"K"},{"x":860,"y":1.61,"s":"K"},{"x":860,"y":1.52,"s":"K"},{"x":865,"y":1.58,"s":"K"},{"x":865,"y":1.47,"s":"K"},{"x":870,"y":1.54,"s":"K"},{"x":870,"y":1.50,"s":"K"},{"x":875,"y":1.52,"s":"K"},
{"x":875,"y":1.45,"s":"K"},{"x":880,"y":1.49,"s":"K"},{"x":880,"y":1.55,"s":"K"},{"x":885,"y":1.52,"s":"K"},{"x":885,"y":1.46,"s":"K"},{"x":890,"y":1.50,"s":"K"},{"x":890,"y":1.44,"s":"K"},{"x":895,"y":1.47,"s":"K"},{"x":895,"y":1.42,"s":"K"},{"x":900,"y":1.45,"s":"K"},
{"x":900,"y":1.38,"s":"K"},{"x":905,"y":1.40,"s":"K"},{"x":905,"y":1.35,"s":"K"},{"x":910,"y":1.37,"s":"K"},{"x":910,"y":1.33,"s":"K"},{"x":915,"y":1.36,"s":"K"},{"x":915,"y":1.30,"s":"K"},{"x":920,"y":1.34,"s":"K"},{"x":920,"y":1.27,"s":"KM"},{"x":925,"y":1.32,"s":"K"},
{"x":925,"y":1.25,"s":"KM"},{"x":930,"y":1.30,"s":"K"},{"x":930,"y":1.26,"s":"KM"},{"x":935,"y":1.36,"s":"K"},{"x":935,"y":1.24,"s":"KM"},{"x":940,"y":1.42,"s":"K"},{"x":940,"y":1.38,"s":"K"},{"x":945,"y":1.45,"s":"K"},{"x":945,"y":1.40,"s":"K"},{"x":950,"y":1.48,"s":"K"},
{"x":950,"y":1.43,"s":"K"},{"x":955,"y":1.50,"s":"K"},{"x":955,"y":1.46,"s":"K"},{"x":960,"y":1.52,"s":"K"},{"x":960,"y":1.47,"s":"K"},{"x":965,"y":1.55,"s":"K"},{"x":965,"y":1.50,"s":"K"},{"x":970,"y":1.57,"s":"K"},{"x":970,"y":1.52,"s":"K"},{"x":975,"y":1.60,"s":"K"},
{"x":975,"y":1.54,"s":"K"},{"x":980,"y":1.62,"s":"K"},{"x":980,"y":1.56,"s":"K"},{"x":985,"y":1.58,"s":"K"},{"x":985,"y":1.50,"s":"K"},{"x":990,"y":1.45,"s":"K"},{"x":990,"y":1.38,"s":"K"},{"x":995,"y":1.40,"s":"K"},{"x":995,"y":1.35,"s":"K"},{"x":1000,"y":1.37,"s":"K"},
{"x":1000,"y":1.32,"s":"K"},{"x":1005,"y":1.40,"s":"K"},{"x":1005,"y":1.27,"s":"KM"},{"x":1010,"y":1.34,"s":"K"},{"x":1010,"y":1.26,"s":"KM"},{"x":1015,"y":1.38,"s":"K"},{"x":1015,"y":1.30,"s":"K"},{"x":1020,"y":1.42,"s":"K"},{"x":1020,"y":1.48,"s":"K"},{"x":1025,"y":1.52,"s":"K"},
{"x":1025,"y":1.45,"s":"K"},{"x":1030,"y":1.58,"s":"K"},{"x":1030,"y":1.50,"s":"K"},{"x":1035,"y":1.62,"s":"K"},{"x":1035,"y":1.55,"s":"K"},{"x":1040,"y":1.60,"s":"K"},{"x":1040,"y":1.52,"s":"K"},{"x":1045,"y":1.56,"s":"K"},{"x":1045,"y":1.48,"s":"K"},{"x":1050,"y":1.50,"s":"K"},
{"x":1050,"y":1.44,"s":"K"},{"x":1055,"y":1.53,"s":"K"},{"x":1055,"y":1.47,"s":"K"},{"x":1060,"y":1.58,"s":"K"},{"x":1060,"y":1.42,"s":"K"},{"x":1065,"y":1.55,"s":"K"},{"x":1065,"y":1.40,"s":"K"},{"x":1070,"y":1.48,"s":"K"},{"x":1070,"y":1.38,"s":"K"},{"x":1075,"y":1.45,"s":"K"},
{"x":1075,"y":1.40,"s":"K"},{"x":1080,"y":1.42,"s":"K"},{"x":1080,"y":1.38,"s":"K"},{"x":1085,"y":1.47,"s":"K"},{"x":1085,"y":1.40,"s":"K"},{"x":1090,"y":1.44,"s":"K"},{"x":1090,"y":1.39,"s":"K"},{"x":1095,"y":1.40,"s":"K"},{"x":1105,"y":1.26,"s":"KM"}
],
"E":[
{"x":0,"y":1.27,"s":"KM"},{"x":0,"y":1.30,"s":"K"},{"x":0,"y":1.45,"s":"K"},{"x":5,"y":1.38,"s":"K"},{"x":5,"y":1.25,"s":"KM"},{"x":10,"y":1.42,"s":"K"},{"x":10,"y":1.33,"s":"K"},{"x":15,"y":1.36,"s":"K"},{"x":15,"y":1.22,"s":"KM"},{"x":20,"y":1.40,"s":"K"},
{"x":20,"y":1.20,"s":"KM"},{"x":25,"y":1.32,"s":"K"},{"x":25,"y":1.24,"s":"KM"},{"x":25,"y":1.15,"s":"M"},{"x":30,"y":1.30,"s":"K"},{"x":30,"y":1.19,"s":"KM"},{"x":30,"y":1.12,"s":"M"},{"x":35,"y":1.21,"s":"KM"},{"x":35,"y":1.08,"s":"M"},{"x":40,"y":1.25,"s":"KM"},
{"x":40,"y":1.10,"s":"M"},{"x":45,"y":1.22,"s":"KM"},{"x":45,"y":1.14,"s":"M"},{"x":50,"y":1.32,"s":"K"},{"x":50,"y":1.13,"s":"M"},{"x":55,"y":1.35,"s":"K"},{"x":55,"y":1.28,"s":"KM"},{"x":60,"y":1.38,"s":"K"},{"x":65,"y":1.42,"s":"K"},{"x":65,"y":1.35,"s":"K"},
{"x":70,"y":1.47,"s":"K"},{"x":70,"y":1.40,"s":"K"},{"x":75,"y":1.50,"s":"K"},{"x":75,"y":1.44,"s":"K"},{"x":80,"y":1.53,"s":"K"},{"x":80,"y":1.45,"s":"K"},{"x":85,"y":1.55,"s":"K"},{"x":85,"y":1.48,"s":"K"},{"x":90,"y":1.52,"s":"K"},{"x":90,"y":1.58,"s":"K"},
{"x":95,"y":1.57,"s":"K"},{"x":95,"y":1.50,"s":"K"},{"x":100,"y":1.58,"s":"K"},{"x":100,"y":1.44,"s":"K"},{"x":105,"y":1.55,"s":"K"},{"x":105,"y":1.40,"s":"K"},{"x":110,"y":1.60,"s":"K"},{"x":110,"y":1.52,"s":"K"},{"x":115,"y":1.58,"s":"K"},{"x":115,"y":1.65,"s":"K"},
{"x":120,"y":1.70,"s":"K"},{"x":120,"y":1.62,"s":"K"},{"x":125,"y":1.75,"s":"K"},{"x":125,"y":1.66,"s":"K"},{"x":130,"y":1.78,"s":"K"},{"x":130,"y":1.68,"s":"K"},{"x":135,"y":1.82,"s":"K"},{"x":135,"y":1.72,"s":"K"},{"x":140,"y":1.88,"s":"K"},{"x":140,"y":1.78,"s":"K"},
{"x":145,"y":1.93,"s":"K"},{"x":145,"y":1.84,"s":"K"},{"x":150,"y":1.96,"s":"K"},{"x":150,"y":1.87,"s":"K"},{"x":155,"y":1.99,"s":"K"},{"x":155,"y":1.92,"s":"K"},{"x":160,"y":2.07,"s":"K"},{"x":160,"y":1.95,"s":"K"},{"x":165,"y":1.92,"s":"K"},{"x":165,"y":1.84,"s":"K"},
{"x":170,"y":1.88,"s":"K"},{"x":170,"y":1.80,"s":"K"},{"x":175,"y":1.85,"s":"K"},{"x":175,"y":1.76,"s":"K"},{"x":180,"y":1.95,"s":"K"},{"x":180,"y":1.82,"s":"K"},{"x":185,"y":1.93,"s":"K"},{"x":185,"y":1.86,"s":"K"},{"x":190,"y":1.84,"s":"K"},{"x":190,"y":1.78,"s":"K"},
{"x":195,"y":1.80,"s":"K"},{"x":195,"y":1.73,"s":"K"},{"x":200,"y":1.87,"s":"K"},{"x":200,"y":1.76,"s":"K"},{"x":205,"y":1.83,"s":"K"},{"x":205,"y":1.72,"s":"K"},{"x":210,"y":1.78,"s":"K"},{"x":210,"y":1.70,"s":"K"},{"x":215,"y":1.75,"s":"K"},{"x":215,"y":1.68,"s":"K"},
{"x":220,"y":1.73,"s":"K"},{"x":220,"y":1.80,"s":"K"},{"x":225,"y":1.70,"s":"K"},{"x":225,"y":1.76,"s":"K"},{"x":230,"y":1.72,"s":"K"},{"x":230,"y":1.66,"s":"K"},{"x":235,"y":1.68,"s":"K"},{"x":235,"y":1.64,"s":"K"},{"x":240,"y":1.70,"s":"K"},{"x":240,"y":1.63,"s":"K"},
{"x":245,"y":1.66,"s":"K"},{"x":245,"y":1.61,"s":"K"},{"x":250,"y":1.65,"s":"K"},{"x":250,"y":1.60,"s":"K"},{"x":255,"y":1.62,"s":"K"},{"x":255,"y":1.58,"s":"K"},{"x":260,"y":1.60,"s":"K"},{"x":260,"y":1.55,"s":"K"},{"x":265,"y":1.57,"s":"K"},{"x":265,"y":1.52,"s":"K"},
{"x":270,"y":1.50,"s":"K"},{"x":270,"y":1.45,"s":"K"},{"x":275,"y":1.40,"s":"K"},{"x":275,"y":1.35,"s":"K"},{"x":280,"y":1.32,"s":"K"},{"x":280,"y":1.30,"s":"K"},{"x":285,"y":1.26,"s":"KM"},{"x":285,"y":1.30,"s":"K"},{"x":290,"y":1.22,"s":"KM"},{"x":290,"y":1.20,"s":"KM"},
{"x":295,"y":1.18,"s":"KM"},{"x":295,"y":1.30,"s":"K"},{"x":300,"y":1.21,"s":"KM"},{"x":300,"y":1.14,"s":"M"},{"x":300,"y":1.08,"s":"M"},{"x":310,"y":1.19,"s":"KM"},{"x":310,"y":1.10,"s":"M"},{"x":310,"y":1.02,"s":"M"},{"x":320,"y":1.18,"s":"KM"},{"x":320,"y":1.12,"s":"M"},
{"x":320,"y":1.05,"s":"M"},{"x":330,"y":1.15,"s":"M"},{"x":330,"y":1.07,"s":"M"},{"x":340,"y":1.17,"s":"KM"},{"x":340,"y":1.10,"s":"M"},{"x":340,"y":1.03,"s":"M"},{"x":350,"y":1.13,"s":"M"},{"x":350,"y":1.08,"s":"M"},{"x":360,"y":1.11,"s":"M"},{"x":360,"y":1.04,"s":"M"},
{"x":370,"y":1.14,"s":"M"},{"x":370,"y":1.09,"s":"M"},{"x":380,"y":1.17,"s":"KM"},{"x":380,"y":1.12,"s":"M"},{"x":380,"y":1.06,"s":"M"},{"x":390,"y":1.10,"s":"M"},{"x":390,"y":1.03,"s":"M"},{"x":400,"y":1.13,"s":"M"},{"x":400,"y":1.00,"s":"M"},{"x":410,"y":1.07,"s":"M"},
{"x":410,"y":0.98,"s":"M"},{"x":420,"y":1.17,"s":"KM"},{"x":420,"y":1.12,"s":"M"},{"x":420,"y":1.05,"s":"M"},{"x":430,"y":1.09,"s":"M"},{"x":430,"y":1.02,"s":"M"},{"x":440,"y":1.14,"s":"M"},{"x":440,"y":1.06,"s":"M"},{"x":450,"y":1.10,"s":"M"},{"x":450,"y":1.04,"s":"M"},
{"x":460,"y":1.12,"s":"M"},{"x":460,"y":1.07,"s":"M"},{"x":470,"y":1.08,"s":"M"},{"x":470,"y":1.01,"s":"M"},{"x":480,"y":1.13,"s":"M"},{"x":480,"y":1.05,"s":"M"},{"x":490,"y":1.15,"s":"M"},{"x":490,"y":1.09,"s":"M"},{"x":500,"y":1.11,"s":"M"},{"x":510,"y":1.20,"s":"KM"},
{"x":510,"y":1.23,"s":"KM"},{"x":510,"y":1.14,"s":"M"},{"x":520,"y":1.22,"s":"KM"},{"x":520,"y":1.26,"s":"KM"},{"x":530,"y":1.30,"s":"K"},{"x":530,"y":1.24,"s":"KM"},{"x":530,"y":1.15,"s":"M"},{"x":540,"y":1.29,"s":"K"},{"x":540,"y":1.21,"s":"KM"},{"x":550,"y":1.32,"s":"K"},
{"x":550,"y":1.25,"s":"KM"},{"x":560,"y":1.30,"s":"K"},{"x":560,"y":1.22,"s":"KM"},{"x":560,"y":1.15,"s":"M"},{"x":570,"y":1.33,"s":"K"},{"x":570,"y":1.27,"s":"KM"},{"x":580,"y":1.31,"s":"K"},{"x":580,"y":1.20,"s":"KM"},{"x":590,"y":1.34,"s":"K"},{"x":590,"y":1.24,"s":"KM"},
{"x":590,"y":1.16,"s":"M"},{"x":600,"y":1.30,"s":"K"},{"x":600,"y":1.22,"s":"KM"},{"x":610,"y":1.26,"s":"KM"},{"x":610,"y":1.14,"s":"M"},{"x":610,"y":1.06,"s":"M"},{"x":620,"y":1.05,"s":"M"},{"x":620,"y":1.00,"s":"M"},{"x":630,"y":0.97,"s":"M"},{"x":630,"y":0.93,"s":"M"},
{"x":635,"y":0.90,"s":"M"},{"x":640,"y":1.10,"s":"M"},{"x":640,"y":1.03,"s":"M"},{"x":650,"y":1.18,"s":"KM"},{"x":650,"y":1.15,"s":"M"},{"x":660,"y":1.22,"s":"KM"},{"x":660,"y":1.12,"s":"M"},{"x":670,"y":1.25,"s":"KM"},{"x":670,"y":1.30,"s":"K"},{"x":680,"y":1.20,"s":"KM"},
{"x":680,"y":1.31,"s":"K"},{"x":680,"y":1.14,"s":"M"},{"x":690,"y":1.34,"s":"K"},{"x":690,"y":1.24,"s":"KM"},{"x":700,"y":1.36,"s":"K"},{"x":700,"y":1.30,"s":"K"},{"x":710,"y":1.38,"s":"K"},{"x":710,"y":1.22,"s":"KM"},{"x":710,"y":1.10,"s":"M"},{"x":720,"y":1.33,"s":"K"},
{"x":720,"y":1.27,"s":"KM"},{"x":720,"y":1.03,"s":"M"},{"x":730,"y":1.22,"s":"KM"},{"x":730,"y":1.13,"s":"M"},{"x":740,"y":1.30,"s":"K"},{"x":740,"y":1.18,"s":"KM"},{"x":740,"y":1.16,"s":"M"},{"x":750,"y":1.24,"s":"KM"},{"x":750,"y":1.29,"s":"K"},{"x":760,"y":1.31,"s":"K"},
{"x":760,"y":1.21,"s":"KM"},{"x":770,"y":1.26,"s":"KM"},{"x":770,"y":1.15,"s":"M"},{"x":780,"y":1.30,"s":"K"},{"x":780,"y":1.23,"s":"KM"},{"x":790,"y":1.32,"s":"K"},{"x":790,"y":1.25,"s":"KM"},{"x":800,"y":1.29,"s":"K"},{"x":800,"y":1.20,"s":"KM"},{"x":810,"y":1.33,"s":"K"},
{"x":810,"y":1.27,"s":"KM"},{"x":820,"y":1.31,"s":"K"},{"x":820,"y":1.22,"s":"KM"},{"x":830,"y":1.29,"s":"K"},{"x":830,"y":1.26,"s":"KM"},{"x":840,"y":1.32,"s":"K"},{"x":840,"y":1.24,"s":"KM"},{"x":850,"y":1.30,"s":"K"},{"x":850,"y":1.21,"s":"KM"},{"x":860,"y":1.28,"s":"KM"},
{"x":860,"y":1.22,"s":"KM"},{"x":870,"y":1.30,"s":"K"},{"x":870,"y":1.25,"s":"KM"},{"x":880,"y":1.27,"s":"KM"},{"x":880,"y":1.20,"s":"KM"},{"x":880,"y":1.15,"s":"M"},{"x":890,"y":1.22,"s":"KM"},{"x":890,"y":1.12,"s":"M"},{"x":900,"y":1.10,"s":"M"},{"x":900,"y":1.05,"s":"M"},
{"x":910,"y":1.19,"s":"KM"},{"x":910,"y":1.13,"s":"M"},{"x":910,"y":1.07,"s":"M"},{"x":920,"y":1.15,"s":"M"},{"x":920,"y":1.02,"s":"M"},{"x":930,"y":1.18,"s":"KM"},{"x":930,"y":1.09,"s":"M"},{"x":930,"y":1.04,"s":"M"},{"x":940,"y":1.12,"s":"M"},{"x":940,"y":1.06,"s":"M"},
{"x":950,"y":1.17,"s":"KM"},{"x":950,"y":1.08,"s":"M"},{"x":950,"y":1.01,"s":"M"},{"x":960,"y":1.13,"s":"M"},{"x":960,"y":1.05,"s":"M"},{"x":970,"y":1.10,"s":"M"},{"x":970,"y":1.02,"s":"M"},{"x":980,"y":1.07,"s":"M"},{"x":980,"y":0.99,"s":"M"},{"x":990,"y":1.12,"s":"M"},
{"x":990,"y":1.04,"s":"M"},{"x":1000,"y":1.09,"s":"M"},{"x":1000,"y":1.01,"s":"M"},{"x":1010,"y":1.14,"s":"M"},{"x":1010,"y":1.06,"s":"M"},{"x":1020,"y":1.08,"s":"M"},{"x":1020,"y":0.98,"s":"M"},{"x":1030,"y":1.11,"s":"M"},{"x":1030,"y":1.03,"s":"M"},{"x":1040,"y":1.07,"s":"M"},
{"x":1040,"y":1.00,"s":"M"},{"x":1050,"y":1.18,"s":"KM"},{"x":1050,"y":1.12,"s":"M"},{"x":1050,"y":1.05,"s":"M"},{"x":1060,"y":1.09,"s":"M"},{"x":1060,"y":1.02,"s":"M"},{"x":1070,"y":1.17,"s":"KM"},{"x":1070,"y":1.14,"s":"M"},{"x":1080,"y":1.10,"s":"M"},{"x":1080,"y":1.04,"s":"M"},
{"x":1090,"y":1.18,"s":"KM"},{"x":1090,"y":1.13,"s":"M"},{"x":1100,"y":1.05,"s":"M"},{"x":1100,"y":0.96,"s":"M"},{"x":1100,"y":0.92,"s":"M"},{"x":1110,"y":1.20,"s":"KM"},{"x":1110,"y":1.15,"s":"M"},{"x":1110,"y":1.00,"s":"M"},{"x":1120,"y":1.23,"s":"KM"},{"x":1120,"y":1.27,"s":"KM"},
{"x":1120,"y":1.10,"s":"M"},{"x":1125,"y":1.21,"s":"KM"},{"x":1130,"y":1.35,"s":"K"},{"x":1130,"y":1.44,"s":"K"},{"x":1140,"y":1.55,"s":"K"},{"x":1140,"y":1.58,"s":"K"},{"x":1145,"y":1.62,"s":"K"},{"x":1145,"y":1.65,"s":"K"}
]
},
"concat":[
{"width":360,"height":329,"title":"Resident","layer":[
 {"data":{"name":"pan"},"transform":[{"filter":"datum.g=='R'"}],"mark":{"type":"rect","color":"#dcdcdc"},"encoding":{"x":{"field":"x","type":"quantitative","scale":{"domain":[-82,1722],"nice":false,"zero":false},"axis":null},"x2":{"field":"xe"},"y":{"datum":0,"type":"quantitative","scale":{"domain":[0,2.2],"nice":false,"zero":false},"axis":{"title":"Sr:Ca (mmol/mol)","values":[0,0.5,1,1.5,2],"format":".1f","titleX":-42,"titleY":354}},"y2":{"datum":2.2}}},
 {"data":{"name":"lines"},"transform":[{"filter":"datum.g=='R' && datum.k=='gs'"}],"mark":{"type":"rule","color":"#7a7a7a","strokeWidth":2},"encoding":{"x":{"field":"x","type":"quantitative","axis":null},"x2":{"field":"xe"},"y":{"field":"y","type":"quantitative","axis":{"title":"Sr:Ca (mmol/mol)","values":[0,0.5,1,1.5,2],"format":".1f","titleX":-42,"titleY":354}}}},
 {"data":{"name":"lines"},"transform":[{"filter":"datum.g=='R' && datum.k=='gd'"}],"mark":{"type":"rule","color":"#9a9a9a","strokeWidth":1.5,"strokeDash":[4,3]},"encoding":{"x":{"field":"x","type":"quantitative","axis":null},"x2":{"field":"xe"},"y":{"field":"y","type":"quantitative","axis":{"title":"Sr:Ca (mmol/mol)","values":[0,0.5,1,1.5,2],"format":".1f","titleX":-42,"titleY":354}}}},
 {"data":{"name":"lines"},"transform":[{"filter":"datum.g=='R' && datum.k=='bs'"}],"mark":{"type":"rule","color":"black","strokeWidth":1.5},"encoding":{"x":{"field":"x","type":"quantitative","axis":null},"x2":{"field":"xe"},"y":{"field":"y","type":"quantitative","axis":{"title":"Sr:Ca (mmol/mol)","values":[0,0.5,1,1.5,2],"format":".1f","titleX":-42,"titleY":354}}}},
 {"data":{"name":"pan"},"transform":[{"filter":"datum.g=='R'"}],"mark":{"type":"rule","color":"black","strokeWidth":1.5},"encoding":{"x":{"field":"x","type":"quantitative","axis":null}}},
 {"data":{"name":"pan"},"transform":[{"filter":"datum.g=='R'"}],"mark":{"type":"rule","color":"black","strokeWidth":1.5},"encoding":{"x":{"field":"xe","type":"quantitative","axis":null}}},
 {"data":{"name":"R"},"mark":{"type":"point","opacity":1,"strokeWidth":1},"encoding":{
  "x":{"field":"x","type":"quantitative","scale":{"domain":[-82,1722],"nice":false,"zero":false},"axis":null},
  "y":{"field":"y","type":"quantitative","scale":{"domain":[0,2.2],"nice":false,"zero":false},"axis":{"title":"Sr:Ca (mmol/mol)","values":[0,0.5,1,1.5,2],"format":".1f","titleX":-42,"titleY":354}},
  "fill":{"field":"s","type":"nominal","scale":{"domain":["K","KM","M","MC"],"range":["black","white","#707070","white"]},"legend":{"title":null,"labelExpr":"datum.value=='K'?'Kansas River':datum.value=='KM'?'Kansas R./Missouri R.':datum.value=='M'?'Missouri R.':'Missouri R./Clinton Res.'"}},
  "stroke":{"field":"s","type":"nominal","scale":{"domain":["K","KM","M","MC"],"range":["black","black","#707070","black"]},"legend":{"title":null,"labelExpr":"datum.value=='K'?'Kansas River':datum.value=='KM'?'Kansas R./Missouri R.':datum.value=='M'?'Missouri R.':'Missouri R./Clinton Res.'"}},
  "shape":{"field":"s","type":"nominal","scale":{"domain":["K","KM","M","MC"],"range":["circle","diamond","circle","circle"]},"legend":{"title":null,"labelExpr":"datum.value=='K'?'Kansas River':datum.value=='KM'?'Kansas R./Missouri R.':datum.value=='M'?'Missouri R.':'Missouri R./Clinton Res.'"}},
  "size":{"condition":[{"test":"datum.s=='K'","value":28},{"test":"datum.s=='MC'","value":34}],"value":52}}}
]},
{"width":360,"height":329,"title":"Transient","layer":[
 {"data":{"name":"pan"},"transform":[{"filter":"datum.g=='T'"}],"mark":{"type":"rect","color":"#dcdcdc"},"encoding":{"x":{"field":"x","type":"quantitative","scale":{"domain":[-82,1722],"nice":false,"zero":false},"axis":null},"x2":{"field":"xe"},"y":{"datum":0,"type":"quantitative","scale":{"domain":[0,2.2],"nice":false,"zero":false},"axis":null},"y2":{"datum":2.2}}},
 {"data":{"name":"lines"},"transform":[{"filter":"datum.g=='T' && datum.k=='gs'"}],"mark":{"type":"rule","color":"#7a7a7a","strokeWidth":2},"encoding":{"x":{"field":"x","type":"quantitative","axis":null},"x2":{"field":"xe"},"y":{"field":"y","type":"quantitative","axis":null}}},
 {"data":{"name":"lines"},"transform":[{"filter":"datum.g=='T' && datum.k=='gd'"}],"mark":{"type":"rule","color":"#9a9a9a","strokeWidth":1.5,"strokeDash":[4,3]},"encoding":{"x":{"field":"x","type":"quantitative","axis":null},"x2":{"field":"xe"},"y":{"field":"y","type":"quantitative","axis":null}}},
 {"data":{"name":"lines"},"transform":[{"filter":"datum.g=='T' && datum.k=='bs'"}],"mark":{"type":"rule","color":"black","strokeWidth":1.5},"encoding":{"x":{"field":"x","type":"quantitative","axis":null},"x2":{"field":"xe"},"y":{"field":"y","type":"quantitative","axis":null}}},
 {"data":{"name":"pan"},"transform":[{"filter":"datum.g=='T'"}],"mark":{"type":"rule","color":"black","strokeWidth":1.5},"encoding":{"x":{"field":"x","type":"quantitative","axis":null}}},
 {"data":{"name":"pan"},"transform":[{"filter":"datum.g=='T'"}],"mark":{"type":"rule","color":"black","strokeWidth":1.5},"encoding":{"x":{"field":"xe","type":"quantitative","axis":null}}},
 {"data":{"name":"T"},"mark":{"type":"point","opacity":1,"strokeWidth":1},"encoding":{
  "x":{"field":"x","type":"quantitative","scale":{"domain":[-82,1722],"nice":false,"zero":false},"axis":null},
  "y":{"field":"y","type":"quantitative","scale":{"domain":[0,2.2],"nice":false,"zero":false},"axis":null},
  "fill":{"field":"s","type":"nominal","scale":{"domain":["K","KM","M","MC"],"range":["black","white","#707070","white"]},"legend":{"title":null,"labelExpr":"datum.value=='K'?'Kansas River':datum.value=='KM'?'Kansas R./Missouri R.':datum.value=='M'?'Missouri R.':'Missouri R./Clinton Res.'"}},
  "stroke":{"field":"s","type":"nominal","scale":{"domain":["K","KM","M","MC"],"range":["black","black","#707070","black"]},"legend":{"title":null,"labelExpr":"datum.value=='K'?'Kansas River':datum.value=='KM'?'Kansas R./Missouri R.':datum.value=='M'?'Missouri R.':'Missouri R./Clinton Res.'"}},
  "shape":{"field":"s","type":"nominal","scale":{"domain":["K","KM","M","MC"],"range":["circle","diamond","circle","circle"]},"legend":{"title":null,"labelExpr":"datum.value=='K'?'Kansas River':datum.value=='KM'?'Kansas R./Missouri R.':datum.value=='M'?'Missouri R.':'Missouri R./Clinton Res.'"}},
  "size":{"condition":[{"test":"datum.s=='K'","value":28},{"test":"datum.s=='MC'","value":34}],"value":52}}}
]},
{"width":360,"height":329,"title":"Immigrant","layer":[
 {"data":{"name":"pan"},"transform":[{"filter":"datum.g=='I'"}],"mark":{"type":"rect","color":"#dcdcdc"},"encoding":{"x":{"field":"x","type":"quantitative","scale":{"domain":[-82,1722],"nice":false,"zero":false},"axis":{"title":"Ablation transect (µm)","values":[0,500,1000,1500],"format":",.0f","titleX":365}},"x2":{"field":"xe"},"y":{"datum":0,"type":"quantitative","scale":{"domain":[0,2.2],"nice":false,"zero":false},"axis":{"title":null,"values":[0,0.5,1,1.5,2],"format":".1f"}},"y2":{"datum":2.2}}},
 {"data":{"name":"lines"},"transform":[{"filter":"datum.g=='I' && datum.k=='gs'"}],"mark":{"type":"rule","color":"#7a7a7a","strokeWidth":2},"encoding":{"x":{"field":"x","type":"quantitative","axis":{"title":"Ablation transect (µm)","values":[0,500,1000,1500],"format":",.0f","titleX":365}},"x2":{"field":"xe"},"y":{"field":"y","type":"quantitative","axis":{"title":null,"values":[0,0.5,1,1.5,2],"format":".1f"}}}},
 {"data":{"name":"lines"},"transform":[{"filter":"datum.g=='I' && datum.k=='gd'"}],"mark":{"type":"rule","color":"#9a9a9a","strokeWidth":1.5,"strokeDash":[4,3]},"encoding":{"x":{"field":"x","type":"quantitative","axis":{"title":"Ablation transect (µm)","values":[0,500,1000,1500],"format":",.0f","titleX":365}},"x2":{"field":"xe"},"y":{"field":"y","type":"quantitative","axis":{"title":null,"values":[0,0.5,1,1.5,2],"format":".1f"}}}},
 {"data":{"name":"lines"},"transform":[{"filter":"datum.g=='I' && datum.k=='bs'"}],"mark":{"type":"rule","color":"black","strokeWidth":1.5},"encoding":{"x":{"field":"x","type":"quantitative","axis":{"title":"Ablation transect (µm)","values":[0,500,1000,1500],"format":",.0f","titleX":365}},"x2":{"field":"xe"},"y":{"field":"y","type":"quantitative","axis":{"title":null,"values":[0,0.5,1,1.5,2],"format":".1f"}}}},
 {"data":{"name":"pan"},"transform":[{"filter":"datum.g=='I'"}],"mark":{"type":"rule","color":"black","strokeWidth":1.5},"encoding":{"x":{"field":"x","type":"quantitative","axis":{"title":"Ablation transect (µm)","values":[0,500,1000,1500],"format":",.0f","titleX":365}}}},
 {"data":{"name":"pan"},"transform":[{"filter":"datum.g=='I'"}],"mark":{"type":"rule","color":"black","strokeWidth":1.5},"encoding":{"x":{"field":"xe","type":"quantitative","axis":{"title":"Ablation transect (µm)","values":[0,500,1000,1500],"format":",.0f","titleX":365}}}},
 {"data":{"name":"I"},"mark":{"type":"point","opacity":1,"strokeWidth":1},"encoding":{
  "x":{"field":"x","type":"quantitative","scale":{"domain":[-82,1722],"nice":false,"zero":false},"axis":{"title":"Ablation transect (µm)","values":[0,500,1000,1500],"format":",.0f","titleX":365}},
  "y":{"field":"y","type":"quantitative","scale":{"domain":[0,2.2],"nice":false,"zero":false},"axis":{"title":null,"values":[0,0.5,1,1.5,2],"format":".1f"}},
  "fill":{"field":"s","type":"nominal","scale":{"domain":["K","KM","M","MC"],"range":["black","white","#707070","white"]},"legend":{"title":null,"labelExpr":"datum.value=='K'?'Kansas River':datum.value=='KM'?'Kansas R./Missouri R.':datum.value=='M'?'Missouri R.':'Missouri R./Clinton Res.'"}},
  "stroke":{"field":"s","type":"nominal","scale":{"domain":["K","KM","M","MC"],"range":["black","black","#707070","black"]},"legend":{"title":null,"labelExpr":"datum.value=='K'?'Kansas River':datum.value=='KM'?'Kansas R./Missouri R.':datum.value=='M'?'Missouri R.':'Missouri R./Clinton Res.'"}},
  "shape":{"field":"s","type":"nominal","scale":{"domain":["K","KM","M","MC"],"range":["circle","diamond","circle","circle"]},"legend":{"title":null,"labelExpr":"datum.value=='K'?'Kansas River':datum.value=='KM'?'Kansas R./Missouri R.':datum.value=='M'?'Missouri R.':'Missouri R./Clinton Res.'"}},
  "size":{"condition":[{"test":"datum.s=='K'","value":28},{"test":"datum.s=='MC'","value":34}],"value":52}}}
]},
{"width":360,"height":329,"title":"Returning Emigrant","layer":[
 {"data":{"name":"pan"},"transform":[{"filter":"datum.g=='E'"}],"mark":{"type":"rect","color":"#dcdcdc"},"encoding":{"x":{"field":"x","type":"quantitative","scale":{"domain":[-82,1722],"nice":false,"zero":false},"axis":{"title":null,"values":[0,500,1000,1500],"format":",.0f"}},"x2":{"field":"xe"},"y":{"datum":0,"type":"quantitative","scale":{"domain":[0,2.2],"nice":false,"zero":false},"axis":null},"y2":{"datum":2.2}}},
 {"data":{"name":"lines"},"transform":[{"filter":"datum.g=='E' && datum.k=='gs'"}],"mark":{"type":"rule","color":"#7a7a7a","strokeWidth":2},"encoding":{"x":{"field":"x","type":"quantitative","axis":{"title":null,"values":[0,500,1000,1500],"format":",.0f"}},"x2":{"field":"xe"},"y":{"field":"y","type":"quantitative","axis":null}}},
 {"data":{"name":"lines"},"transform":[{"filter":"datum.g=='E' && datum.k=='gd'"}],"mark":{"type":"rule","color":"#9a9a9a","strokeWidth":1.5,"strokeDash":[4,3]},"encoding":{"x":{"field":"x","type":"quantitative","axis":{"title":null,"values":[0,500,1000,1500],"format":",.0f"}},"x2":{"field":"xe"},"y":{"field":"y","type":"quantitative","axis":null}}},
 {"data":{"name":"lines"},"transform":[{"filter":"datum.g=='E' && datum.k=='bs'"}],"mark":{"type":"rule","color":"black","strokeWidth":1.5},"encoding":{"x":{"field":"x","type":"quantitative","axis":{"title":null,"values":[0,500,1000,1500],"format":",.0f"}},"x2":{"field":"xe"},"y":{"field":"y","type":"quantitative","axis":null}}},
 {"data":{"name":"pan"},"transform":[{"filter":"datum.g=='E'"}],"mark":{"type":"rule","color":"black","strokeWidth":1.5},"encoding":{"x":{"field":"x","type":"quantitative","axis":{"title":null,"values":[0,500,1000,1500],"format":",.0f"}}}},
 {"data":{"name":"pan"},"transform":[{"filter":"datum.g=='E'"}],"mark":{"type":"rule","color":"black","strokeWidth":1.5},"encoding":{"x":{"field":"xe","type":"quantitative","axis":{"title":null,"values":[0,500,1000,1500],"format":",.0f"}}}},
 {"data":{"name":"E"},"mark":{"type":"point","opacity":1,"strokeWidth":1},"encoding":{
  "x":{"field":"x","type":"quantitative","scale":{"domain":[-82,1722],"nice":false,"zero":false},"axis":{"title":null,"values":[0,500,1000,1500],"format":",.0f"}},
  "y":{"field":"y","type":"quantitative","scale":{"domain":[0,2.2],"nice":false,"zero":false},"axis":null},
  "fill":{"field":"s","type":"nominal","scale":{"domain":["K","KM","M","MC"],"range":["black","white","#707070","white"]},"legend":{"title":null,"labelExpr":"datum.value=='K'?'Kansas River':datum.value=='KM'?'Kansas R./Missouri R.':datum.value=='M'?'Missouri R.':'Missouri R./Clinton Res.'"}},
  "stroke":{"field":"s","type":"nominal","scale":{"domain":["K","KM","M","MC"],"range":["black","black","#707070","black"]},"legend":{"title":null,"labelExpr":"datum.value=='K'?'Kansas River':datum.value=='KM'?'Kansas R./Missouri R.':datum.value=='M'?'Missouri R.':'Missouri R./Clinton Res.'"}},
  "shape":{"field":"s","type":"nominal","scale":{"domain":["K","KM","M","MC"],"range":["circle","diamond","circle","circle"]},"legend":{"title":null,"labelExpr":"datum.value=='K'?'Kansas River':datum.value=='KM'?'Kansas R./Missouri R.':datum.value=='M'?'Missouri R.':'Missouri R./Clinton Res.'"}},
  "size":{"condition":[{"test":"datum.s=='K'","value":28},{"test":"datum.s=='MC'","value":34}],"value":52}}}
]}
],
"config":{
 "view":{"stroke":null},
 "font":"Liberation Serif",
 "axis":{"domainColor":"black","domainWidth":1.5,"tickColor":"black","tickWidth":1.5,"tickSize":5,"labelFont":"Liberation Serif","labelFontWeight":"bold","labelFontSize":18,"labelColor":"black","labelPadding":2,"labelFlush":false,"titleFont":"Liberation Serif","titleFontWeight":"bold","titleFontSize":20,"titleColor":"black","titlePadding":1,"grid":false},
 "title":{"font":"Liberation Serif","fontSize":22,"fontWeight":"bold","color":"black","anchor":"middle","offset":9},
 "legend":{"orient":"none","legendX":768,"legendY":306,"labelFont":"Liberation Serif","labelFontWeight":"bold","labelFontSize":17,"labelColor":"black","labelOffset":20,"labelLimit":0,"rowPadding":8,"symbolSize":30,"symbolStrokeWidth":1.2,"padding":0}
}
}
